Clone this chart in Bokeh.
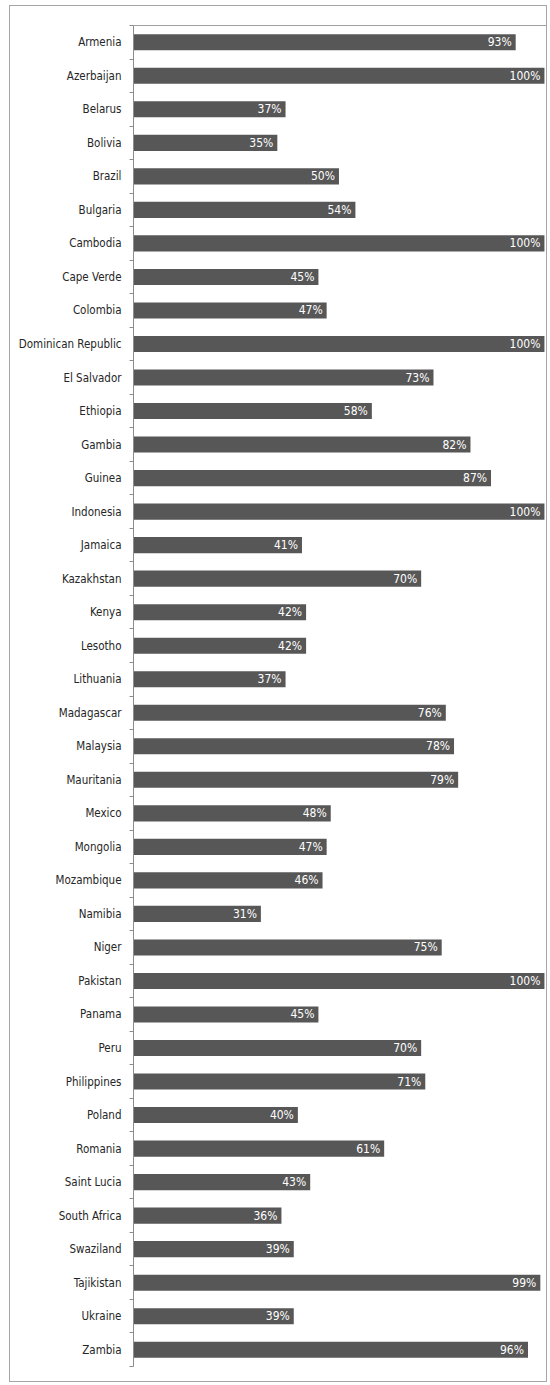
from bokeh.plotting import figure
from bokeh.models import (ColumnDataSource, Range1d, LinearAxis,
                          FixedTicker, LabelSet)
from bokeh.core.properties import value
from bokeh.embed import file_html
from bokeh.resources import INLINE

countries = ["Armenia", "Azerbaijan", "Belarus", "Bolivia", "Brazil", "Bulgaria",
             "Cambodia", "Cape Verde", "Colombia", "Dominican Republic", "El Salvador",
             "Ethiopia", "Gambia", "Guinea", "Indonesia", "Jamaica", "Kazakhstan",
             "Kenya", "Lesotho", "Lithuania", "Madagascar", "Malaysia", "Mauritania",
             "Mexico", "Mongolia", "Mozambique", "Namibia", "Niger", "Pakistan",
             "Panama", "Peru", "Philippines", "Poland", "Romania", "Saint Lucia",
             "South Africa", "Swaziland", "Tajikistan", "Ukraine", "Zambia"]
values = [93, 100, 37, 35, 50, 54, 100, 45, 47, 100, 73, 58, 82, 87, 100, 41, 70,
          42, 42, 37, 76, 78, 79, 48, 47, 46, 31, 75, 100, 45, 70, 71, 40, 61, 43,
          36, 39, 99, 39, 96]
labels = [f"{v}%" for v in values]

FONT = "DejaVu Sans Condensed"
n = len(countries)
pos = [i + 0.5 for i in range(n)]

src = ColumnDataSource(dict(country=countries, value=values, label=labels, pos=pos))

p = figure(width=538, height=1377, margin=(5, 0, 0, 9),
           styles={"border": "1px solid #a6a6a6"},
           y_range=Range1d(n, 0), x_range=Range1d(0, 100.5),
           output_backend="svg", toolbar_location=None,
           min_border_left=123, min_border_right=2, min_border_top=19,
           min_border_bottom=17, outline_line_color=None,
           x_axis_location=None, y_axis_location=None)
p.xgrid.visible = False
p.ygrid.visible = False

p.hbar(y="pos", right="value", left=0, height=0.48, source=src,
       fill_color="#575757", line_color=None)

p.add_layout(LabelSet(x="value", y="pos", text="label", source=src,
                      x_offset=-4, y_offset=0, text_align="right",
                      text_baseline="middle", text_color="white",
                      text_font=value(FONT), text_font_size=value("12px")))

# category axis: labels at bar centres, ticks (minor) at category boundaries
cat_axis = LinearAxis(ticker=FixedTicker(ticks=pos, minor_ticks=list(range(n + 1))),
                      major_label_overrides={pp: c for pp, c in zip(pos, countries)},
                      axis_line_color="#8c8c8c", major_tick_line_color=None,
                      minor_tick_line_color="#8c8c8c", minor_tick_in=0,
                      minor_tick_out=4,
                      major_label_text_font=FONT,
                      major_label_text_font_size="11.5px",
                      major_label_text_color="#262626",
                      major_label_standoff=6)
p.add_layout(cat_axis, "left")

top_axis = LinearAxis(ticker=FixedTicker(ticks=[]), axis_line_color="#a0a0a0",
                      major_tick_line_color=None, minor_tick_line_color=None,
                      major_label_text_font_size="0px")
p.add_layout(top_axis, "above")

open("out.html", "w").write(file_html(p, INLINE))
